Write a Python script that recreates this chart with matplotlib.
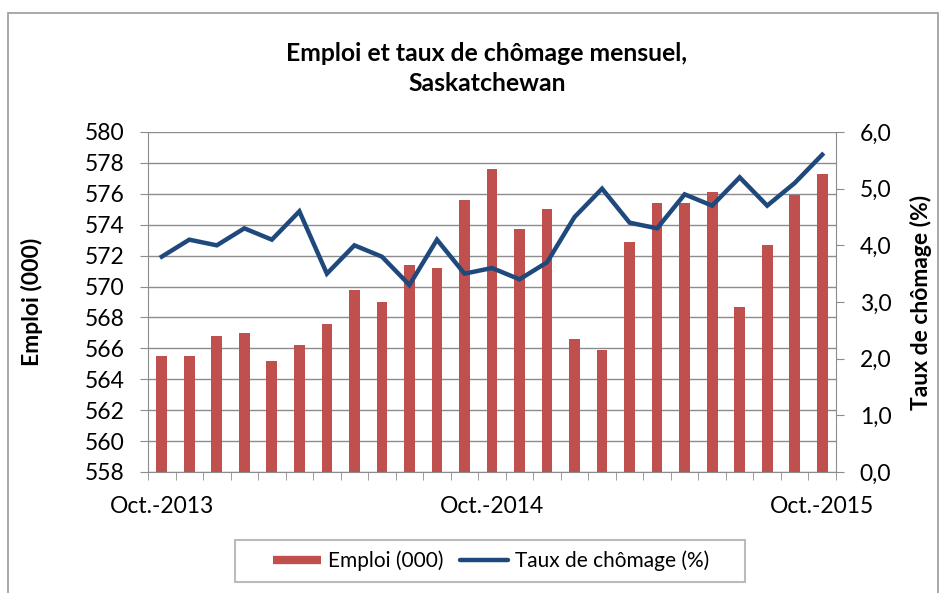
import matplotlib.pyplot as plt
from matplotlib.ticker import FuncFormatter, MultipleLocator, FixedLocator
from matplotlib.patches import Rectangle
from matplotlib.lines import Line2D

plt.rcParams['font.family'] = ['Lato', 'DejaVu Sans']

# Oct-2013 .. Oct-2015, monthly
months = ['Oct.-2013', 'Nov.-2013', 'Déc.-2013', 'Jan.-2014', 'Fév.-2014', 'Mars-2014',
          'Avr.-2014', 'Mai-2014', 'Juin-2014', 'Juil.-2014', 'Août-2014', 'Sept.-2014',
          'Oct.-2014', 'Nov.-2014', 'Déc.-2014', 'Jan.-2015', 'Fév.-2015', 'Mars-2015',
          'Avr.-2015', 'Mai-2015', 'Juin-2015', 'Juil.-2015', 'Août-2015', 'Sept.-2015',
          'Oct.-2015']
emploi = [565.5, 565.5, 566.8, 567.0, 565.2, 566.2, 567.6, 569.8, 569.0, 571.4,
          571.2, 575.6, 577.6, 573.7, 575.0, 566.6, 565.9, 572.9, 575.4, 575.4,
          576.1, 568.7, 572.7, 575.9, 577.3]
chomage = [3.8, 4.1, 4.0, 4.3, 4.1, 4.6, 3.5, 4.0, 3.8, 3.3, 4.1, 3.5, 3.6,
           3.4, 3.7, 4.5, 5.0, 4.4, 4.3, 4.9, 4.7, 5.2, 4.7, 5.1, 5.6]
shown_labels = {0: 'Oct.-2013', 12: 'Oct.-2014', 24: 'Oct.-2015'}

bar_color = '#C0504D'
line_color = '#1F497D'
grid_color = '#8C8C8C'
x = list(range(len(months)))
W, H = 952, 593

fig = plt.figure(figsize=(W / 100, H / 100), dpi=100)
# outer chart border
fig.patches.append(Rectangle((8 / W, -10 / H), 930 / W, (H - 13 + 10) / H,
                             transform=fig.transFigure, fill=False,
                             edgecolor='#9A9A9A', linewidth=1.2))

ax = fig.add_axes([148 / W, 1 - 472 / H, 688 / W, 340 / H])
ax.bar(x, emploi, width=0.39, color=bar_color, zorder=2)
ax.set_ylim(558, 580)
ax.set_xlim(-0.5, len(months) - 0.5)
ax.yaxis.set_major_locator(MultipleLocator(2))
ax.grid(axis='y', color=grid_color, linewidth=1, zorder=0)
ax.set_axisbelow(True)

ax.xaxis.set_major_locator(FixedLocator(list(shown_labels.keys())))
ax.set_xticklabels(list(shown_labels.values()))
ax.xaxis.set_minor_locator(FixedLocator([i - 0.5 for i in range(len(months) + 1)]))
ax.tick_params(axis='x', which='major', length=0, labelsize=16.5, pad=17)
ax.tick_params(axis='x', which='minor', length=5.5, color=grid_color, direction='out')
ax.tick_params(axis='y', length=6, color=grid_color, labelsize=16.5, pad=11)

for side in ['top', 'right']:
    ax.spines[side].set_visible(False)
for side in ['left', 'bottom']:
    ax.spines[side].set_color(grid_color)

ax.set_ylabel('Emploi (000)', fontsize=16.5, fontweight='bold')
ax.yaxis.set_label_coords((43 - 148) / 688, 0.5)

ax2 = ax.twinx()
ax2.plot(x, chomage, color=line_color, linewidth=3.2, zorder=3,
         solid_joinstyle='miter')
ax2.set_ylim(0, 6)
ax2.yaxis.set_major_locator(MultipleLocator(1))
ax2.yaxis.set_major_formatter(FuncFormatter(lambda v, p: f'{v:.1f}'.replace('.', ',')))
ax2.tick_params(axis='y', length=6, color=grid_color, labelsize=16.5, pad=11)
for side in ['top', 'left', 'bottom']:
    ax2.spines[side].set_visible(False)
ax2.spines['right'].set_color(grid_color)
ax2.set_ylabel('Taux de chômage (%)', fontsize=16.5, fontweight='bold', rotation=90)
ax2.yaxis.set_label_coords((910 - 148) / 688, 0.5)

fig.text(487 / W, 1 - 68.5 / H, 'Emploi et taux de chômage mensuel,\nSaskatchewan',
         ha='center', va='center', fontsize=17.8, fontweight='bold', linespacing=1.4)

# legend with its own frame
fig.patches.append(Rectangle((235 / W, 1 - 582 / H), 510 / W, 42 / H,
                             transform=fig.transFigure, fill=True, facecolor='white',
                             edgecolor='#BBBBBB', linewidth=1.5, zorder=1))
handles = [Line2D([0], [0], color=bar_color, linewidth=6, solid_capstyle='butt',
                  label='Emploi (000)'),
           Line2D([0], [0], color=line_color, linewidth=3.2, solid_capstyle='round',
                  label='Taux de chômage (%)')]
leg = fig.legend(handles=handles, loc='center', bbox_to_anchor=(491 / W, 1 - 561 / H),
                 ncol=2, fontsize=15, frameon=False, handlelength=2.3,
                 handletextpad=0.35, columnspacing=0.8)

plt.savefig('out.png', dpi=100)
